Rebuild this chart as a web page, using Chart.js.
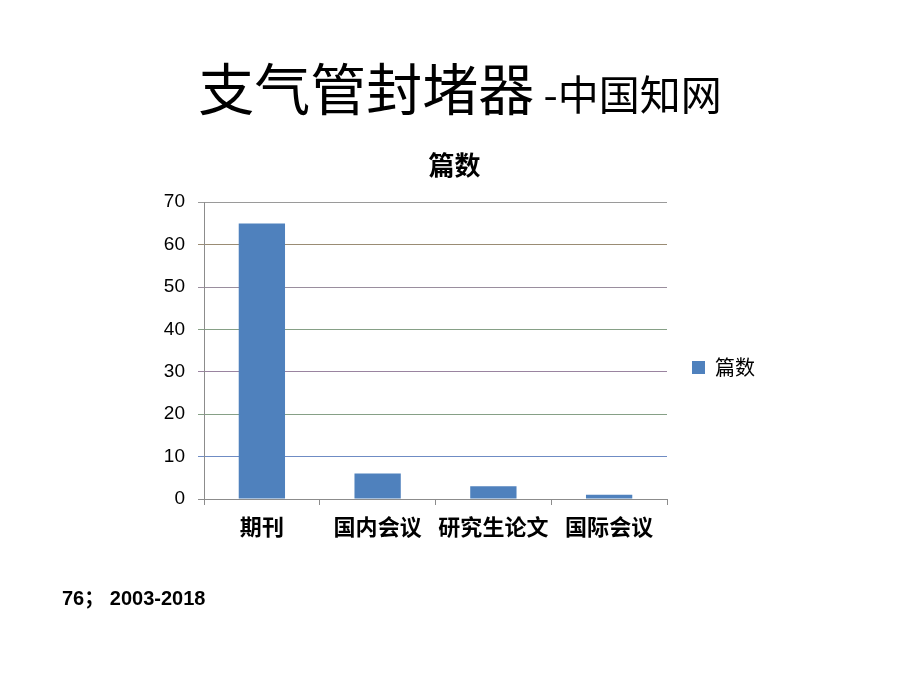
<!DOCTYPE html>
<html>
<head>
<meta charset="utf-8">
<script src="https://cdn.jsdelivr.net/npm/chart.js@4.4.1/dist/chart.umd.min.js"></script>
<style>
  html, body { margin:0; padding:0; background:#fff; }
  #wrap { position:relative; width:920px; height:690px; overflow:hidden; }
  #c { position:absolute; left:0; top:0; }
  #title { position:absolute; left:0; width:920px; top:45px; text-align:center; font-family:"Noto Sans CJK SC", sans-serif; color:#000; white-space:nowrap; }
  #title .big { font-size:56px; }
  #title .small { font-size:41px; }
  #foot { position:absolute; left:62px; top:582px; font-family:"Liberation Sans","Noto Sans CJK SC",sans-serif; font-weight:bold; font-size:20px; color:#000; white-space:pre; }
</style>
</head>
<body>
<div id="wrap">
  <canvas id="c" width="920" height="690"></canvas>
  <div id="title"><span class="big">支气管封堵器</span><span class="small"> -中国知网</span></div>
  <div id="foot">76； 2003-2018</div>
</div>
<script>
const categories = ["期刊", "国内会议", "研究生论文", "国际会议"];
const seriesName = "篇数";
const counts = [65, 6, 3, 1];
const yTicks = [0, 10, 20, 30, 40, 50, 60, 70];
const gridColors = ["#8c8c8c", "#6f8cc4", "#86a086", "#9a84a0", "#86a086", "#9a8e9e", "#9a8c74", "#9a9a9a"];

const ctx = document.getElementById('c').getContext('2d');
new Chart(ctx, {
  type: 'bar',
  data: {
    labels: categories,
    datasets: [{
      label: seriesName,
      data: counts,
      backgroundColor: '#4f81bd',
      borderWidth: 0,
      categoryPercentage: 1.0,
      barPercentage: 0.4
    }]
  },
  options: {
    responsive: false,
    animation: false,
    devicePixelRatio: 1,
    layout: { padding: { left: 144, top: 150, right: 155, bottom: 141 } },
    plugins: {
      title: {
        display: true,
        text: '篇数',
        font: { family: '"Noto Sans CJK SC", sans-serif', size: 26, weight: 'bold' },
        color: '#000',
        padding: { top: 0, bottom: 21 }
      },
      legend: {
        position: 'right',
        title: {
          display: true,
          text: ' ',
          font: { size: 1, lineHeight: 1 },
          padding: { top: 35, bottom: 0 }
        },
        labels: {
          boxWidth: 13,
          boxHeight: 13,
          padding: 25,
          color: '#000',
          font: { family: '"Noto Sans CJK SC", sans-serif', size: 20 }
        }
      },
      tooltip: { enabled: false }
    },
    scales: {
      x: {
        afterFit: (s) => { s.height = 50; },
        grid: {
          offset: true,
          drawOnChartArea: false,
          drawTicks: true,
          tickLength: 6,
          color: '#8c8c8c'
        },
        border: { color: '#8c8c8c', width: 1 },
        ticks: {
          color: '#000',
          padding: 8,
          autoSkip: false,
          maxRotation: 0,
          minRotation: 0,
          font: { family: '"Noto Sans CJK SC", sans-serif', size: 22, weight: 'bold' }
        }
      },
      y: {
        min: 0,
        max: 70,
        afterFit: (s) => { s.width = 60; },
        afterBuildTicks: (s) => { s.ticks = yTicks.map(v => ({ value: v })); },
        grid: {
          tickLength: 6,
          color: (c) => gridColors[c.index] || '#8c8c8c',
          lineWidth: 1
        },
        border: { color: '#8c8c8c', width: 1 },
        ticks: {
          color: '#000',
          padding: 13,
          font: { family: '"Liberation Sans", sans-serif', size: 19 }
        }
      }
    }
  }
});
</script>
</body>
</html>
